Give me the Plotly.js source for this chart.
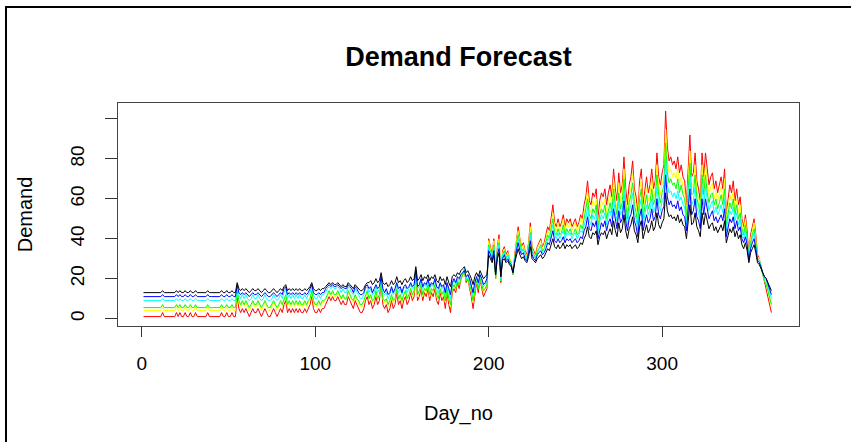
<!DOCTYPE html>
<html><head><meta charset="utf-8">
<script src="https://cdn.plot.ly/plotly-3.0.1.min.js"></script>
<style>
html,body{margin:0;padding:0;background:#fff;}
body{width:851px;height:442px;overflow:hidden;position:relative;}
#chart{width:851px;height:442px;position:absolute;left:0;top:0;}
#frame{position:absolute;left:5px;top:6px;width:900px;height:500px;border-left:2px solid #000;border-top:2px solid #000;pointer-events:none;}
</style></head>
<body><div id="chart"></div><div id="frame"></div>
<script>
const chartTitle = 'Demand Forecast';
const xLabel = 'Day_no';
const yLabel = 'Demand';
const xTicks = [0, 100, 200, 300];
const yTicks = [0, 20, 40, 60, 80, 100];
const yTickText = ['0', '20', '40', '60', '80', ''];
const seriesColors = ['#FF0000', '#FFFF00', '#00FF00', '#00FFFF', '#0000FF', '#000000'];

const red = [1,1,1,1,1,1,1,1,1,1,
1,3,1,1,1,1,1,1,1,3,
1,3,1,1,3,1,1,3,1,1,
3,1,1,1,1,1,1,3,1,1,
1,1,1,1,1,3,1,1,3,1,
1,3,1,1,11,5,3,5,3,5,
3,1,3,5,3,3,5,3,1,3,
5,3,1,1,3,5,3,1,3,5,
3,7,9,3,5,3,5,3,5,3,
5,3,3,5,3,5,7,11,5,3,
3,5,3,5,5,7,9,11,9,11,
9,9,11,9,7,9,7,7,11,9,
7,5,9,7,5,3,3,5,9,11,
7,9,5,7,11,7,9,18,7,5,
7,3,5,9,5,7,13,7,9,5,
9,11,7,9,13,9,11,24,9,11,
15,9,13,11,15,9,13,11,15,9,
7,13,9,11,5,13,7,3,13,15,
13,18,15,20,22,24,18,20,15,11,
5,13,18,13,20,15,11,13,15,40,
36,32,40,20,36,42,18,34,36,32,
34,30,28,22,32,40,46,40,36,38,
34,32,38,48,36,34,32,36,38,40,
36,38,42,46,44,50,57,48,46,50,
46,48,52,46,50,48,50,46,48,50,
46,48,52,50,57,61,69,59,57,63,
61,65,50,59,63,61,65,57,63,67,
61,75,65,59,73,63,67,81,65,57,
67,71,79,65,61,52,69,75,57,65,
71,63,67,75,65,69,83,71,67,73,
77,104,86,79,81,77,79,75,81,73,
77,71,69,57,75,92,71,73,83,69,
65,59,83,71,83,73,67,71,73,65,
69,63,67,71,65,75,52,61,67,63,
69,59,65,57,61,50,46,52,44,32,
42,46,50,42,32,30,26,22,18,15,
11,7,3];

const yellow = [4,4,4,4,4,4,4,4,4,4,
4,6,4,4,4,4,4,4,4,6,
4,6,4,4,6,4,4,6,4,4,
6,4,4,4,4,4,4,6,4,4,
4,4,4,4,4,6,4,4,6,4,
4,6,4,4,13,8,6,8,6,8,
6,4,6,8,6,6,8,6,4,6,
8,6,4,4,6,8,6,4,6,8,
6,9.5,11,6,8,6,8,6,8,6,
8,6,6,8,6,8,9.5,13,8,6,
6,8,6,8,8,9.5,11,13,11,13,
11,11,13,11,9.5,11,9.5,9.5,13,11,
9.5,8,11,9.5,8,6,6,8,11,13,
9.5,11,8,9.5,13,9.5,11,19,9.5,8,
9.5,6,8,11,8,9.5,15,9.5,11,8,
11,13,9.5,11,15,11,13,24,11,13,
17,11,15,13,17,11,15,13,17,11,
9.5,15,11,13,8,15,9.5,6,15,17,
15,19,17,20,22,24,19,20,17,13,
8,15,19,15,20,17,13,15,17,39,
35,31,39,20,35,40,19,33,35,31,
33,30,28,22,31,39,44,39,35,37,
33,31,37,46,35,33,31,35,37,39,
35,37,40,44,42,48,53,46,44,48,
44,46,50,44,48,46,48,44,46,48,
44,46,50,48,53,57,64,55,53,59,
57,60,48,55,59,57,60,53,59,62,
57,70,60,55,68,59,62,75,60,53,
62,66,73,60,57,50,64,70,53,60,
66,59,62,70,60,64,77,66,62,68,
71,95,79,73,75,71,73,70,75,68,
71,66,64,53,70,84,66,68,77,64,
60,55,77,66,77,68,62,66,68,60,
64,59,62,66,60,70,50,57,62,59,
64,55,60,53,57,48,44,50,42,31,
40,44,48,40,31,30,26,22,19,17,
13,9.5,6];

const green = [5.5,5.5,5.5,5.5,5.5,5.5,5.5,5.5,5.5,5.5,
5.5,7,5.5,5.5,5.5,5.5,5.5,5.5,5.5,7,
5.5,7,5.5,5.5,7,5.5,5.5,7,5.5,5.5,
7,5.5,5.5,5.5,5.5,5.5,5.5,7,5.5,5.5,
5.5,5.5,5.5,5.5,5.5,7,5.5,5.5,7,5.5,
5.5,7,5.5,5.5,14,9,7,9,7,9,
7,5.5,7,9,7,7,9,7,5.5,7,
9,7,5.5,5.5,7,9,7,5.5,7,9,
7,10,12,7,9,7,9,7,9,7,
9,7,7,9,7,9,10,14,9,7,
7,9,7,9,9,10,12,14,12,14,
12,12,14,12,10,12,10,10,14,12,
10,9,12,10,9,7,7,9,12,14,
10,12,9,10,14,10,12,19,10,9,
10,7,9,12,9,10,15,10,12,9,
12,14,10,12,15,12,14,24,12,14,
17,12,15,14,17,12,15,14,17,12,
10,15,12,14,9,15,10,7,15,17,
15,19,17,20,22,24,19,20,17,14,
9,15,19,15,20,17,14,15,17,37,
34,30,37,20,34,38,19,32,34,30,
32,29,27,22,30,37,42,37,34,35,
32,30,35,43,34,32,30,34,35,37,
34,35,38,42,40,45,50,43,42,45,
42,43,47,42,45,43,45,42,43,45,
42,43,47,45,50,53,60,52,50,55,
53,57,45,52,55,53,57,50,55,58,
53,65,57,52,63,55,58,70,57,50,
58,62,68,57,53,47,60,65,50,57,
62,55,58,65,57,60,72,62,58,63,
67,88,73,68,70,67,68,65,70,63,
67,62,60,50,65,78,62,63,72,60,
57,52,72,62,72,63,58,62,63,57,
60,55,58,62,57,65,47,53,58,55,
60,52,57,50,53,45,42,47,40,30,
38,42,45,38,30,29,25,22,19,17,
14,10,7];

const cyan = [9,9,9,9,9,9,9,9,9,9,
9,10,9,9,9,9,9,9,9,10,
9,10,9,9,10,9,9,10,9,9,
10,9,9,9,9,9,9,10,9,9,
9,9,9,9,9,10,9,9,10,9,
9,10,9,9,16,12,10,12,10,12,
10,9,10,12,10,10,12,10,9,10,
12,10,9,9,10,12,10,9,10,12,
10,13,15,10,12,10,12,10,12,10,
12,10,10,12,10,12,13,16,12,10,
10,12,10,12,12,13,15,16,15,16,
15,15,16,15,13,15,13,13,16,15,
13,12,15,13,12,10,10,12,15,16,
13,15,12,13,16,13,15,20,13,12,
13,10,12,15,12,13,17,13,15,12,
15,16,13,15,17,15,16,25,15,16,
19,15,17,16,19,15,17,16,19,15,
13,17,15,16,12,17,13,10,17,19,
17,20,19,22,23,25,20,22,19,16,
12,17,20,17,22,19,16,17,19,36,
33,30,36,22,33,37,20,32,33,30,
32,29,27,23,30,36,40,36,33,35,
32,30,35,42,33,32,30,33,35,36,
33,35,37,40,39,43,47,42,40,43,
40,42,44,40,43,42,43,40,42,43,
40,42,44,43,47,50,56,49,47,52,
50,53,43,49,52,50,53,47,52,54,
50,60,53,49,59,52,54,64,53,47,
54,57,63,53,50,44,56,60,47,53,
57,52,54,60,53,56,66,57,54,59,
61,80,67,63,64,61,63,60,64,59,
61,57,56,47,60,72,57,59,66,56,
53,49,66,57,66,59,54,57,59,53,
56,52,54,57,53,60,44,50,54,52,
56,49,53,47,50,43,40,44,39,30,
37,40,43,37,30,29,26,23,20,19,
16,13,10];

const blue = [11,11,11,11,11,11,11,11,11,11,
11,12,11,11,11,11,11,11,11,12,
11,12,11,11,12,11,11,12,11,11,
12,11,11,11,11,11,11,12,11,11,
11,11,11,11,11,12,11,11,12,11,
11,12,11,11,17,13,12,13,12,13,
12,11,12,13,12,12,13,12,11,12,
13,12,11,11,12,13,12,11,12,13,
12,15,16,12,13,12,13,12,13,12,
13,12,12,13,12,13,15,17,13,12,
12,13,12,13,13,15,16,17,16,17,
16,16,17,16,15,16,15,15,17,16,
15,13,16,15,13,12,12,13,16,17,
15,16,13,15,17,15,16,21,15,13,
15,12,13,16,13,15,18,15,16,13,
16,17,15,16,18,16,17,24,16,17,
20,16,18,17,20,16,18,17,20,16,
15,18,16,17,13,18,15,12,18,20,
18,21,20,22,23,24,21,22,20,17,
13,18,21,18,22,20,17,18,20,34,
32,29,34,22,32,35,21,30,32,29,
30,28,27,23,29,34,38,34,32,33,
30,29,33,39,32,30,29,32,33,34,
32,33,35,38,37,40,44,39,38,40,
38,39,41,38,40,39,40,38,39,40,
38,39,41,40,44,46,51,45,44,48,
46,49,40,45,48,46,49,44,48,50,
46,55,49,45,54,48,50,59,49,44,
50,52,57,49,46,41,51,55,44,49,
52,48,50,55,49,51,60,52,50,54,
56,72,61,57,59,56,57,55,59,54,
56,52,51,44,55,65,52,54,60,51,
49,45,60,52,60,54,50,52,54,49,
51,48,50,52,49,55,41,46,50,48,
51,45,49,44,46,40,38,41,37,29,
35,38,40,35,29,28,26,23,21,20,
17,15,12];

const black = [13,13,13,13,13,13,13,13,13,13,
13,14,13,13,13,13,13,13,13,14,
13,14,13,13,14,13,13,14,13,13,
14,13,13,13,13,13,13,14,13,13,
13,13,13,13,13,14,13,13,14,13,
13,14,13,13,18,15,14,15,14,15,
14,13,14,15,14,14,15,14,13,14,
15,14,13,13,14,15,14,13,14,15,
14,16,17,14,15,14,15,14,15,14,
15,14,14,15,14,15,16,18,15,14,
14,15,14,15,15,16,17,18,17,18,
17,17,18,17,16,17,16,16,18,17,
16,15,17,16,15,14,14,15,17,18,
18,19,17,18,20,18,19,23,18,17,
18,16,17,19,17,18,21,18,19,17,
19,20,18,19,21,19,20,26,19,20,
22,19,21,20,22,19,21,20,22,19,
18,21,19,20,17,21,18,16,21,22,
21,23,22,24,25,26,23,24,22,20,
17,21,23,21,24,22,20,21,22,32,
30,28,32,22,30,33,21,29,30,28,
29,27,26,23,28,32,35,32,30,31,
29,28,31,36,30,29,28,30,31,32,
30,31,33,35,34,37,40,36,35,37,
35,36,38,35,37,36,37,35,36,37,
35,36,38,37,40,42,46,41,40,43,
42,44,37,41,43,42,44,40,43,45,
42,49,44,41,48,43,45,52,44,40,
45,47,51,44,42,38,46,49,40,44,
47,43,45,49,44,46,53,47,45,48,
50,63,54,51,52,50,51,49,52,48,
50,47,46,40,49,57,47,48,53,46,
44,41,53,47,53,48,45,47,48,44,
46,43,45,47,44,49,38,42,45,43,
46,41,44,40,42,37,35,38,34,28,
33,35,37,33,28,27,25,23,21,20,
18,16,14];

const seriesList = [red, yellow, green, cyan, blue, black];
const seriesNames = ['red', 'yellow', 'green', 'cyan', 'blue', 'black'];
const dayNo = black.map((_, i) => i + 1);

const traces = seriesList.map((vals, k) => ({
  type: 'scatter', mode: 'lines', x: dayNo, y: vals, name: seriesNames[k],
  line: {color: seriesColors[k], width: 1}, hoverinfo: 'skip'
}));

const fontFam = '"Liberation Sans", Arial, sans-serif';
const layout = {
  width: 851, height: 442,
  margin: {l: 118, r: 52, t: 103, b: 116, pad: 0},
  paper_bgcolor: '#ffffff', plot_bgcolor: '#ffffff',
  showlegend: false,
  font: {family: fontFam, color: '#000'},
  title: {text: '<b>' + chartTitle + '</b>', font: {family: fontFam, size: 27, color: '#000'},
          x: 0.5, xref: 'paper', xanchor: 'center', y: 1 - 57/442, yref: 'container', yanchor: 'middle'},
  xaxis: {
    range: [-13.7, 378.9], tickvals: xTicks, ticktext: xTicks.map(String),
    ticks: 'outside', ticklen: 10, tickwidth: 1, tickcolor: '#333',
    showline: true, mirror: true, linecolor: '#444', linewidth: 1,
    showgrid: false, zeroline: false, tickfont: {size: 19, family: fontFam, color: '#000'},
    ticklabelstandoff: 10,
    title: {text: xLabel, font: {size: 20, family: fontFam, color: '#000'}, standoff: 33},
    automargin: false
  },
  yaxis: {
    range: [-3.72, 108], tickvals: yTicks, ticktext: yTickText, tickangle: -90,
    ticks: 'outside', ticklen: 12, tickwidth: 1, tickcolor: '#333',
    showline: true, mirror: true, linecolor: '#444', linewidth: 1,
    showgrid: false, zeroline: false, tickfont: {size: 19, family: fontFam, color: '#000'},
    ticklabelstandoff: 13,
    title: {text: yLabel, font: {size: 20, family: fontFam, color: '#000'}, standoff: 29},
    automargin: false
  }
};
Plotly.newPlot('chart', traces, layout, {staticPlot: true, displayModeBar: false});
</script></body></html>
